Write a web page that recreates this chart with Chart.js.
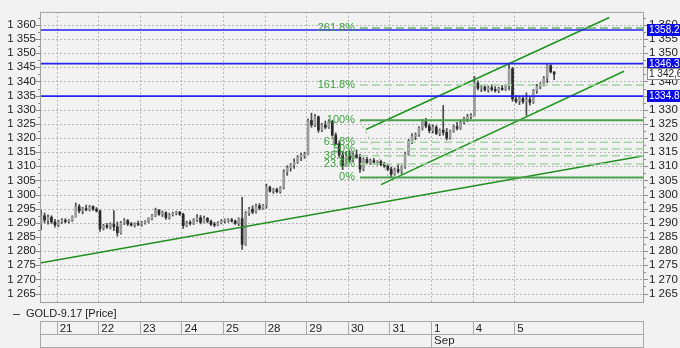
<!DOCTYPE html>
<html>
<head>
<meta charset="utf-8">
<script src="https://cdn.jsdelivr.net/npm/chart.js@4.4.1/dist/chart.umd.min.js"></script>
<style>
html, body { margin: 0; padding: 0; background: #f2f2f2; }
#wrap { width: 680px; height: 348px; }
</style>
</head>
<body>
<div id="wrap"><canvas id="chart" width="680" height="348"></canvas></div>
<script>
// day labels under the plot (x = 1..12 are the day starts)
const dayLabels = ['21', '22', '23', '24', '25', '28', '29', '30', '31', '1', '4', '5'];
const monthLabel = 'Sep';
const monthStartDay = 10;
const yTicks = [1265, 1270, 1275, 1280, 1285, 1290, 1295, 1300, 1305, 1310, 1315,
    1320, 1325, 1330, 1335, 1340, 1345, 1350, 1355, 1360];
const barsPerDay = 12;

// bars as [open, high, low, close]
const day18 = [ // only the last 5 bars are visible
    [1289.5, 1294.5, 1287.5, 1292.5], [1292.5, 1293.5, 1290.0, 1291.0], [1291.0, 1292.8, 1289.5, 1292.0],
    [1292.0, 1292.5, 1289.8, 1290.3], [1290.3, 1291.2, 1288.5, 1289.3],
];
const day21 = [
    [1289.3, 1291.0, 1288.6, 1290.4], [1290.4, 1291.5, 1289.8, 1290.8], [1290.8, 1291.5, 1290.0, 1290.5],
    [1290.5, 1291.2, 1289.9, 1290.9], [1290.9, 1292.5, 1290.5, 1292.2], [1292.2, 1297.0, 1292.0, 1295.8],
    [1295.8, 1296.5, 1293.5, 1294.2], [1294.2, 1295.5, 1293.2, 1295.0], [1295.0, 1296.3, 1294.2, 1294.6],
    [1294.6, 1296.2, 1294.2, 1295.8], [1295.8, 1296.0, 1294.4, 1294.8], [1294.8, 1295.4, 1293.8, 1294.2],
];
const day22 = [
    [1294.2, 1294.5, 1287.0, 1288.0], [1288.0, 1289.5, 1287.5, 1289.0], [1289.0, 1289.8, 1288.0, 1288.5],
    [1288.5, 1290.0, 1287.8, 1289.5], [1289.5, 1294.3, 1287.2, 1288.6], [1288.6, 1290.3, 1285.3, 1286.5],
    [1286.5, 1290.5, 1286.0, 1290.0], [1290.0, 1291.5, 1289.4, 1290.8], [1290.8, 1291.2, 1289.0, 1289.6],
    [1289.6, 1290.2, 1288.8, 1289.2], [1289.2, 1290.0, 1288.5, 1289.6], [1289.6, 1290.6, 1289.0, 1289.4],
];
const day23 = [
    [1289.4, 1290.5, 1288.8, 1290.0], [1290.0, 1290.8, 1289.5, 1290.4], [1290.4, 1291.8, 1290.0, 1291.5],
    [1291.5, 1293.0, 1291.0, 1292.6], [1292.6, 1295.2, 1292.2, 1294.4], [1294.4, 1294.8, 1292.6, 1293.0],
    [1293.0, 1294.2, 1292.2, 1293.6], [1293.6, 1293.9, 1291.2, 1291.8], [1291.8, 1293.4, 1291.3, 1292.9],
    [1292.9, 1293.8, 1292.4, 1293.4], [1293.4, 1294.1, 1292.8, 1293.8], [1293.8, 1294.0, 1292.6, 1293.0],
];
const day24 = [
    [1293.0, 1293.4, 1288.0, 1289.0], [1289.0, 1290.6, 1288.6, 1290.0], [1290.0, 1290.8, 1289.2, 1289.8],
    [1289.8, 1291.5, 1289.4, 1291.0], [1291.0, 1292.9, 1290.4, 1291.8], [1291.8, 1292.6, 1289.6, 1290.2],
    [1290.2, 1292.4, 1290.0, 1291.6], [1291.6, 1291.9, 1290.0, 1290.6], [1290.6, 1291.0, 1289.0, 1289.5],
    [1289.5, 1290.2, 1288.6, 1289.2], [1289.2, 1290.4, 1288.9, 1290.0], [1290.0, 1291.2, 1289.6, 1290.7],
];
const day25 = [
    [1290.7, 1291.4, 1290.0, 1290.8], [1290.8, 1291.5, 1290.2, 1291.0], [1291.0, 1291.6, 1290.3, 1290.6],
    [1290.6, 1291.0, 1289.4, 1289.8], [1289.8, 1291.8, 1289.0, 1291.5], [1291.5, 1299.0, 1280.6, 1282.4],
    [1282.4, 1294.0, 1282.0, 1293.5], [1293.5, 1295.5, 1292.6, 1294.8], [1294.8, 1296.0, 1293.2, 1293.8],
    [1293.8, 1296.6, 1293.4, 1296.0], [1296.0, 1296.8, 1294.6, 1295.2], [1295.2, 1296.5, 1294.7, 1296.2],
];
const day28 = [
    [1296.2, 1303.7, 1295.2, 1302.6], [1302.6, 1303.0, 1300.8, 1301.2], [1301.2, 1302.2, 1300.4, 1301.8],
    [1301.8, 1302.3, 1300.6, 1301.0], [1301.0, 1302.8, 1300.5, 1302.4], [1302.4, 1308.8, 1302.0, 1308.0],
    [1308.0, 1310.2, 1306.8, 1309.5], [1309.5, 1311.0, 1308.3, 1310.6], [1310.6, 1312.6, 1309.2, 1311.4],
    [1311.4, 1313.8, 1311.0, 1313.2], [1313.2, 1314.6, 1312.0, 1313.8], [1313.8, 1315.0, 1312.8, 1314.2],
];
const day29 = [
    [1314.2, 1326.8, 1314.0, 1326.2], [1326.2, 1328.8, 1323.8, 1324.6], [1324.6, 1328.4, 1324.0, 1327.5],
    [1327.5, 1327.8, 1322.0, 1322.8], [1322.8, 1325.2, 1322.2, 1324.6], [1324.6, 1326.0, 1323.2, 1323.8],
    [1323.8, 1326.5, 1323.4, 1325.8], [1325.8, 1326.3, 1320.6, 1321.0], [1321.0, 1321.8, 1317.4, 1318.0],
    [1318.0, 1319.0, 1313.2, 1314.0], [1314.0, 1315.0, 1308.8, 1310.2], [1310.2, 1315.2, 1310.0, 1313.6],
];
const day30 = [
    [1313.6, 1315.5, 1311.5, 1312.4], [1312.4, 1314.8, 1311.6, 1314.0], [1314.0, 1315.8, 1312.8, 1313.2],
    [1313.2, 1314.2, 1307.8, 1309.0], [1309.0, 1313.0, 1308.4, 1312.4], [1312.4, 1313.2, 1310.8, 1311.2],
    [1311.2, 1312.6, 1310.6, 1312.0], [1312.0, 1312.8, 1310.8, 1311.4], [1311.4, 1312.0, 1310.4, 1311.8],
    [1311.8, 1312.2, 1310.2, 1310.6], [1310.6, 1311.4, 1309.6, 1310.0], [1310.0, 1310.8, 1308.4, 1309.0],
];
const day31 = [
    [1309.0, 1309.8, 1306.1, 1307.2], [1307.2, 1309.4, 1306.8, 1308.8], [1308.8, 1310.8, 1307.6, 1308.2],
    [1308.2, 1310.2, 1307.4, 1309.8], [1309.8, 1315.0, 1309.2, 1314.4], [1314.4, 1319.5, 1313.8, 1318.8],
    [1318.8, 1321.6, 1318.0, 1320.6], [1320.6, 1321.8, 1319.4, 1321.2], [1321.2, 1324.0, 1320.6, 1323.4],
    [1323.4, 1326.6, 1322.8, 1325.8], [1325.8, 1327.0, 1323.6, 1324.2], [1324.2, 1325.0, 1321.8, 1322.6],
];
const day01 = [
    [1322.6, 1324.6, 1321.8, 1323.8], [1323.8, 1324.4, 1321.2, 1321.6], [1321.6, 1323.2, 1320.8, 1322.8],
    [1322.8, 1331.5, 1321.0, 1322.0], [1322.0, 1323.4, 1319.3, 1320.0], [1320.0, 1322.8, 1319.6, 1322.4],
    [1322.4, 1324.6, 1322.0, 1324.0], [1324.0, 1325.5, 1322.8, 1323.4], [1323.4, 1326.0, 1323.0, 1325.6],
    [1325.6, 1327.4, 1325.0, 1326.8], [1326.8, 1328.4, 1325.8, 1327.6], [1327.6, 1328.6, 1326.8, 1328.0],
];
const day04 = [
    [1328.0, 1341.8, 1327.8, 1339.4], [1339.4, 1340.2, 1337.0, 1337.6], [1337.6, 1338.6, 1336.4, 1338.0],
    [1338.0, 1338.6, 1336.6, 1337.0], [1337.0, 1338.4, 1336.2, 1337.8], [1337.8, 1338.8, 1336.6, 1337.2],
    [1337.2, 1338.2, 1336.2, 1336.8], [1336.8, 1338.0, 1336.0, 1337.6], [1337.6, 1338.6, 1336.8, 1337.2],
    [1337.2, 1339.0, 1336.8, 1338.6], [1338.6, 1346.1, 1337.0, 1344.5], [1344.5, 1345.0, 1333.0, 1333.8],
];
const day05 = [
    [1333.8, 1335.0, 1332.4, 1333.0], [1333.0, 1334.6, 1331.8, 1334.0], [1334.0, 1334.8, 1332.2, 1332.8],
    [1332.8, 1336.0, 1328.0, 1333.6], [1333.6, 1334.6, 1331.6, 1332.6], [1332.6, 1337.2, 1332.2, 1336.8],
    [1336.8, 1339.0, 1335.8, 1338.2], [1338.2, 1339.6, 1337.4, 1339.2], [1339.2, 1341.8, 1338.4, 1341.2],
    [1341.2, 1346.3, 1339.6, 1345.6], [1345.6, 1346.0, 1343.0, 1343.4], [1343.4, 1343.4, 1340.6, 1342.6],
];
const days = [day18, day21, day22, day23, day24, day25, day28, day29, day30, day31, day01, day04, day05];

// horizontal price levels and drawn objects (x in day units, y in price)
const priceLines = [1358.2, 1346.3, 1334.8];
const fibLevels = [0, 23.6, 38.2, 50, 61.8, 100, 161.8, 261.8];
const fibLow = 1306.05;
const fibHigh = 1326.25;
const fibFrom = 8.29;
const fibTo = 8.99;
const trendLine = [[0.599, 1275.8], [15.118, 1313.7]];
const channelTop = [[8.435, 1323.0], [14.284, 1362.6]];
const channelBottom = [[8.796, 1303.5], [14.637, 1343.6]];

const X_MIN = 0.599, X_MAX = 15.118;
const FONT = '"Liberation Sans", Arial, sans-serif';

// build bars
const bars = [];
days.forEach((d, di) => {
    const first = di === 0 ? barsPerDay - d.length : 0;
    d.forEach((b, k) => {
        bars.push({ x: di + (first + k + 0.5) / barsPerDay, o: b[0], h: b[1], l: b[2], c: b[3] });
    });
});
const lastClose = bars[bars.length - 1].c;

function fmt(v) {
    return String(v).replace(/\B(?=(\d{3})+(?!\d))/g, ' ');
}

function seg(points, color, width, dash) {
    return {
        type: 'line',
        data: points.map(p => ({ x: p[0], y: p[1] })),
        borderColor: color,
        borderWidth: width,
        borderDash: dash || [],
        pointRadius: 0,
        fill: false,
        order: 1,
    };
}

const datasets = [];
datasets.push({
    type: 'bar',
    label: 'wicks',
    data: bars.map(b => ({ x: b.x, y: [b.l, b.h] })),
    backgroundColor: '#4a4a4a',
    barThickness: 1,
    grouped: false,
    order: 3,
});
datasets.push({
    type: 'bar',
    label: 'GOLD-9.17 [Price]',
    data: bars.map(b => ({ x: b.x, y: [b.o, b.c] })),
    backgroundColor: bars.map(b => (b.c >= b.o ? '#9c9c9c' : '#2a2a2a')),
    barThickness: 2,
    minBarLength: 1,
    grouped: false,
    order: 2,
});

priceLines.forEach(v => datasets.push(seg([[X_MIN, v], [X_MAX, v]], '#2323f2', 1.6)));

fibLevels.forEach(lv => {
    const v = fibLow + (fibHigh - fibLow) * lv / 100;
    if (lv === 0 || lv === 100) datasets.push(seg([[fibFrom, v], [X_MAX, v]], '#4c9f4c', 2));
    else if (lv === 261.8) datasets.push(seg([[fibFrom, v], [X_MAX, v]], '#6ab56a', 1.5, [8, 4]));
    else datasets.push(seg([[fibFrom, v], [X_MAX, v]], '#a4d4a4', 1.5, [8, 4]));
});
datasets.push(seg([[fibFrom, fibHigh], [fibTo, fibLow]], '#9ccc9c', 1, [3, 3]));

datasets.push(seg(trendLine, '#1f8f1f', 1.5));
datasets.push(seg(channelTop, '#1c961c', 1.5));
datasets.push(seg(channelBottom, '#1c961c', 1.5));

const decor = {
    id: 'decor',
    beforeDraw(chart) {
        const ctx = chart.ctx;
        ctx.save();
        ctx.fillStyle = '#f2f2f2';
        ctx.fillRect(0, 0, chart.width, chart.height);
        ctx.restore();
    },
    beforeDatasetsDraw(chart) {
        const { ctx, chartArea: a, scales } = chart;
        ctx.save();
        ctx.strokeStyle = '#b4b4b4';
        ctx.lineWidth = 1;
        ctx.setLineDash([2, 2]);
        ctx.beginPath();
        yTicks.forEach(v => {
            const py = Math.round(scales.y.getPixelForValue(v)) + 0.5;
            ctx.moveTo(a.left, py);
            ctx.lineTo(a.right, py);
        });
        dayLabels.forEach((_, i) => {
            const px = Math.round(scales.x.getPixelForValue(i + 1)) + 0.5;
            ctx.moveTo(px, a.top);
            ctx.lineTo(px, a.bottom);
        });
        ctx.stroke();
        ctx.restore();
    },
    afterDatasetsDraw(chart) {
        const { ctx, scales } = chart;
        ctx.save();
        ctx.font = '11px ' + FONT;
        ctx.fillStyle = '#3f9f3f';
        ctx.textAlign = 'right';
        ctx.textBaseline = 'middle';
        const px = scales.x.getPixelForValue(fibFrom) - 5;
        fibLevels.forEach(lv => {
            const v = fibLow + (fibHigh - fibLow) * lv / 100;
            ctx.fillText(lv + '%', px, scales.y.getPixelForValue(v));
        });
        ctx.restore();
    },
    afterDraw(chart) {
        const { ctx, chartArea: a, scales } = chart;
        ctx.save();
        // plot frame and axis tick marks
        ctx.strokeStyle = '#a0a0a0';
        ctx.lineWidth = 1;
        ctx.strokeRect(a.left + 0.5, a.top + 0.5, a.right - a.left - 1, a.bottom - a.top);
        ctx.strokeStyle = '#8c8c8c';
        ctx.beginPath();
        yTicks.forEach(v => {
            const py = Math.round(scales.y.getPixelForValue(v)) + 0.5;
            ctx.moveTo(a.left - 4, py); ctx.lineTo(a.left, py);
            ctx.moveTo(a.right, py); ctx.lineTo(a.right + 4, py);
            const pm = Math.round(scales.y.getPixelForValue(v + 2.5)) + 0.5;
            ctx.moveTo(a.left - 2, pm); ctx.lineTo(a.left, pm);
            ctx.moveTo(a.right, pm); ctx.lineTo(a.right + 2, pm);
        });
        ctx.stroke();

        // date box under the legend
        const bTop = 321.5, bMid = 334.5, bBot = 347.5;
        ctx.strokeStyle = '#a8a8a8';
        ctx.beginPath();
        ctx.moveTo(a.left, bTop); ctx.lineTo(a.right, bTop);
        ctx.moveTo(a.left, bMid); ctx.lineTo(a.right, bMid);
        ctx.moveTo(a.left, bBot); ctx.lineTo(a.right, bBot);
        ctx.moveTo(a.left + 0.5, bTop); ctx.lineTo(a.left + 0.5, bBot);
        ctx.moveTo(a.right - 0.5, bTop); ctx.lineTo(a.right - 0.5, bBot);
        dayLabels.forEach((_, i) => {
            const px = Math.round(scales.x.getPixelForValue(i + 1)) + 0.5;
            ctx.moveTo(px, bTop);
            ctx.lineTo(px, i + 1 === monthStartDay ? bBot : bMid);
        });
        ctx.stroke();
        ctx.font = '11.5px ' + FONT;
        ctx.fillStyle = '#222';
        ctx.textAlign = 'left';
        ctx.textBaseline = 'middle';
        ctx.fillText(monthLabel, scales.x.getPixelForValue(monthStartDay) + 3, 341);

        // legend
        ctx.strokeStyle = '#444';
        ctx.beginPath();
        ctx.moveTo(13, 314.5); ctx.lineTo(20, 314.5);
        ctx.stroke();
        ctx.font = '11px ' + FONT;
        ctx.fillText('GOLD-9.17 [Price]', 26, 314);

        // price tags on the right axis
        const tagX = a.right + 3;
        ctx.font = '10px ' + FONT;
        priceLines.forEach(v => {
            const py = Math.round(scales.y.getPixelForValue(v));
            ctx.fillStyle = '#0c0ce8';
            ctx.fillRect(tagX, py - 6, chart.width - tagX, 12);
            ctx.fillStyle = '#ffffff';
            ctx.fillText(v.toFixed(1), tagX + 2, py + 0.5);
        });
        const py = Math.round(scales.y.getPixelForValue(lastClose));
        const parts = lastClose.toFixed(1).split('.');
        ctx.fillStyle = '#fafafa';
        ctx.fillRect(tagX, py - 6, chart.width - tagX, 12);
        ctx.strokeStyle = '#8c8c8c';
        ctx.strokeRect(tagX + 0.5, py - 5.5, chart.width - tagX, 11);
        ctx.fillStyle = '#222';
        ctx.fillText(fmt(parts[0]) + ',' + parts[1], tagX + 2, py + 0.5);
        ctx.restore();
    },
};

const yAxis = (position, width, padding) => ({
    type: 'linear',
    position,
    min: 1262,
    max: 1364.6,
    grid: { display: false, drawTicks: false },
    border: { display: false },
    afterBuildTicks: s => { s.ticks = yTicks.map(v => ({ value: v })); },
    afterFit: s => { s.width = width; },
    ticks: {
        autoSkip: false,
        padding,
        color: '#222',
        font: { family: FONT, size: 11.5 },
        callback: v => fmt(v),
    },
});

new Chart(document.getElementById('chart'), {
    type: 'bar',
    data: { datasets },
    options: {
        responsive: false,
        animation: false,
        events: [],
        layout: { padding: { top: 6, left: 0, right: 0, bottom: 0 } },
        plugins: { legend: { display: false }, tooltip: { enabled: false } },
        scales: {
            x: {
                type: 'linear',
                position: 'bottom',
                min: X_MIN,
                max: X_MAX,
                offset: false,
                grid: { display: false, drawTicks: false, offset: false },
                border: { display: false },
                afterBuildTicks: s => { s.ticks = dayLabels.map((_, i) => ({ value: i + 1 })); },
                afterFit: s => { s.height = 46; },
                ticks: {
                    autoSkip: false,
                    maxRotation: 0,
                    align: 'start',
                    labelOffset: 3,
                    padding: 20,
                    color: '#222',
                    font: { family: FONT, size: 11.5 },
                    callback: (v, i) => dayLabels[i],
                },
            },
            y: yAxis('left', 40, 4),
            y2: yAxis('right', 36, 5),
        },
    },
    plugins: [decor],
});
</script>
</body>
</html>
